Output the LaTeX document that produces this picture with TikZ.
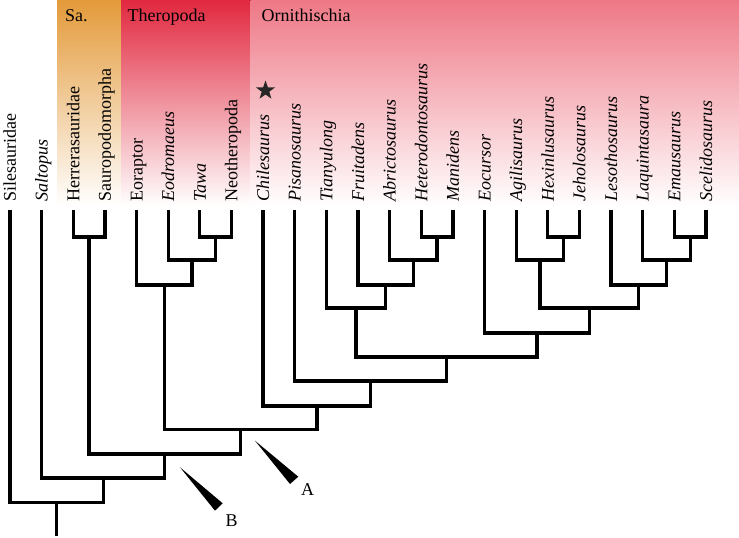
\documentclass[tikz,border=0pt]{standalone}
\usepackage{fontspec}
\setmainfont{Liberation Serif}
\usetikzlibrary{shapes.geometric}
\definecolor{sacol}{HTML}{E39A3A}
\definecolor{thcol}{HTML}{E1283F}
\definecolor{orcol}{HTML}{EE7886}
\definecolor{starcol}{HTML}{262626}
\begin{document}
\begin{tikzpicture}[x=1pt,y=-1pt,
  tree/.style={line width=3.3pt,black},
  taxon/.style={rotate=90,anchor=base west,inner sep=0pt,font=\fontsize{18}{20}\selectfont},
  itaxon/.style={taxon,font=\fontsize{18}{20}\selectfont\itshape},
  header/.style={anchor=base west,inner sep=0pt,font=\fontsize{18}{20}\selectfont},
  pointer/.style={fill=black},
  letter/.style={inner sep=0pt,font=\fontsize{18}{20}\selectfont}]
\useasboundingbox (0,0) rectangle (739,538);
% clade backgrounds
\fill[top color=sacol,middle color=sacol!70!white,bottom color=white] (57,0) rectangle (121,206);
\fill[top color=thcol,middle color=thcol!70!white,bottom color=white] (121,0) rectangle (250.5,206);
\fill[top color=orcol,middle color=orcol!70!white,bottom color=white] (250.5,0) rectangle (739,206);
\node[header] (hsa) at (65,21) {Sa.};
\node[header] (hth) at (127.5,21) {Theropoda};
\node[header] (hor) at (261.5,21) {Ornithischia};
% taxa
\foreach \i/\name/\sty in {0/Silesauridae/taxon,1/Saltopus/itaxon,2/Herrerasauridae/taxon,
  3/Sauropodomorpha/taxon,4/Eoraptor/taxon,5/Eodromaeus/itaxon,6/Tawa/itaxon,
  7/Neotheropoda/taxon,8/Chilesaurus/itaxon,9/Pisanosaurus/itaxon,10/Tianyulong/itaxon,
  11/Fruitadens/itaxon,12/Abrictosaurus/itaxon,13/Heterodontosaurus/itaxon,
  14/Manidens/itaxon,15/Eocursor/itaxon,16/Agilisaurus/itaxon,17/Hexinlusaurus/itaxon,
  18/Jeholosaurus/itaxon,19/Lesothosaurus/itaxon,20/Laquintasaura/itaxon,
  21/Emausaurus/itaxon,22/Scelidosaurus/itaxon}{
  \pgfmathsetmacro{\xx}{10+31.636*\i}
  \coordinate (t\i) at (\xx,210);
  \node[\sty] (l\i) at (\xx+6,202) {\name};
}
\node[star,star points=5,star point ratio=2.5,fill=starcol,inner sep=0pt,minimum size=20pt] (star) at (265.5,90.5) {};
% internal nodes
\coordinate (hs) at (89.09,237);
\coordinate (tn) at (215.64,237);
\coordinate (etn) at (191.91,260);
\coordinate (th) at (164.23,285);
\coordinate (hm) at (437.09,237);
\coordinate (ahm) at (413.36,260);
\coordinate (fahm) at (385.68,285);
\coordinate (het) at (356.02,308);
\coordinate (hj) at (563.64,237);
\coordinate (ahj) at (539.91,260);
\coordinate (es) at (690.18,237);
\coordinate (les) at (666.45,260);
\coordinate (lle) at (638.77,285);
\coordinate (gen) at (589.34,308);
\coordinate (eoc) at (536.94,333);
\coordinate (neo) at (446.48,357);
\coordinate (pis) at (370.6,381);
\coordinate (orn) at (316.85,406);
\coordinate (dino) at (240.54,429.5);
\coordinate (sau) at (164.8,454);
\coordinate (sal) at (103.22,478);
\coordinate (root) at (56.61,502.5);
\coordinate (base) at (56.61,536);
% branches
\draw[tree] (t2) |- (hs) -| (t3);
\draw[tree] (t6) |- (tn) -| (t7);
\draw[tree] (t5) |- (etn) -| (tn);
\draw[tree] (t4) |- (th) -| (etn);
\draw[tree] (t13) |- (hm) -| (t14);
\draw[tree] (t12) |- (ahm) -| (hm);
\draw[tree] (t11) |- (fahm) -| (ahm);
\draw[tree] (t10) |- (het) -| (fahm);
\draw[tree] (t17) |- (hj) -| (t18);
\draw[tree] (t16) |- (ahj) -| (hj);
\draw[tree] (t21) |- (es) -| (t22);
\draw[tree] (t20) |- (les) -| (es);
\draw[tree] (t19) |- (lle) -| (les);
\draw[tree] (ahj) |- (gen) -| (lle);
\draw[tree] (t15) |- (eoc) -| (gen);
\draw[tree] (het) |- (neo) -| (eoc);
\draw[tree] (t9) |- (pis) -| (neo);
\draw[tree] (t8) |- (orn) -| (pis);
\draw[tree] (th) |- (dino) -| (orn);
\draw[tree] (hs) |- (sau) -| (dino);
\draw[tree] (t1) |- (sal) -| (sau);
\draw[tree] (t0) |- (root) -| (sal);
\draw[tree] (root) -- (base);
% pointers
\coordinate (pa) at (255,440.7);
\coordinate (pb) at (180,467.3);
\fill[pointer] (pa) -- (298.3,476.7) -- (290,484) -- cycle;
\fill[pointer] (pb) -- (222.7,503.3) -- (215,510.7) -- cycle;
\node[letter] (la) at (307.7,490) {A};
\node[letter] (lb) at (231.7,521) {B};
\end{tikzpicture}
\end{document}
